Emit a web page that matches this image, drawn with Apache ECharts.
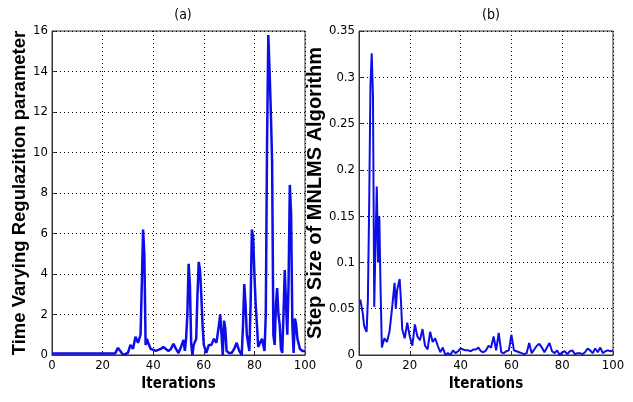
<!DOCTYPE html>
<html><head><meta charset="utf-8">
<script src="https://cdn.jsdelivr.net/npm/echarts@6/dist/echarts.min.js"></script>
<style>html,body{margin:0;padding:0;background:#fff}#c{width:633px;height:402px}</style>
</head><body><div id="c"></div>
<script>
// Panel (a): time varying regularization parameter
const iterA = [0,5,10,15,20,25,26,27,28,29,30,31,32,33,34,35,35.5,36,36.5,37,37.5,38,39,40,41,42,43,44,45,46,47,48,49,50,51,52,52.5,53,53.5,54,54.5,55,55.5,56,57,57.5,58,58.5,59,59.5,60,61,62,63,64,65,66,66.5,67,67.5,68,68.5,69,70,71,72,73,74,75,75.5,76,76.5,77,78,78.5,79,79.5,80,80.5,81,81.5,82,83,83.5,84,84.5,85,85.5,86,86.5,87,87.5,88,88.5,89,89.5,90,90.5,91,91.5,92,92.5,93,93.5,94,94.5,95,95.5,96,96.5,97,98,99,100];
const regA  = [0.08,0.08,0.08,0.08,0.08,0.08,0.35,0.2,0.02,0.05,0.1,0.5,0.3,0.9,0.6,1.0,3.5,6.2,5.0,0.5,0.8,0.6,0.3,0.25,0.2,0.25,0.3,0.4,0.3,0.2,0.3,0.55,0.3,0.1,0.4,0.75,0.2,0.8,2.0,4.5,3.5,0.6,0.0,0.5,0.8,3.0,4.6,4.2,3.0,1.5,0.5,0.1,0.5,0.5,0.8,0.6,1.5,2.0,1.0,0.0,1.7,1.3,0.2,0.1,0.1,0.3,0.6,0.2,0.0,1.5,3.5,2.5,1.0,0.2,2.5,6.2,5.8,4.0,2.5,1.5,0.4,0.4,0.8,0.5,0.2,2.0,10.5,15.8,14.0,12.0,9.5,1.0,0.5,2.5,3.3,2.0,1.5,0.3,0.1,2.0,4.2,2.5,1.0,3.5,8.4,7.0,1.5,0.1,1.8,1.5,0.8,0.3,0.2,0.2];
// Panel (b): step size of MNLMS algorithm
const iterB = [0.5,1,1.5,2,2.5,3,3.5,4,4.5,5,5.5,6,6.5,7,7.5,8,8.5,9,10,11,12,13,14,14.5,15,16,16.5,17,18,19,20,21,22,23,24,25,26,27,28,29,30,31,32,33,34,35,36,37,38,39,40,41,42,43,44,45,46,47,48,49,50,51,52,53,54,55,56,57,58,59,60,61,62,63,64,65,66,67,68,69,70,71,72,73,74,75,76,77,78,79,80,81,82,83,84,85,86,87,88,89,90,91,92,93,94,95,96,97,98,99,100];
const stepB = [0.06,0.058,0.045,0.032,0.028,0.025,0.06,0.16,0.29,0.326,0.28,0.052,0.12,0.182,0.1,0.15,0.07,0.008,0.018,0.014,0.025,0.05,0.078,0.05,0.07,0.082,0.06,0.028,0.018,0.035,0.02,0.01,0.033,0.02,0.016,0.028,0.01,0.006,0.025,0.014,0.018,0.01,0.003,0.008,0.0,0.002,0.0,0.005,0.002,0.004,0.007,0.006,0.005,0.005,0.004,0.006,0.006,0.008,0.004,0.003,0.005,0.01,0.008,0.02,0.005,0.024,0.003,0.002,0.004,0.005,0.022,0.005,0.004,0.003,0.002,0.001,0.002,0.013,0.002,0.006,0.01,0.012,0.008,0.003,0.008,0.013,0.004,0.002,0.005,0.0,0.003,0.004,0.001,0.004,0.005,0.001,0.002,0.002,0.001,0.003,0.007,0.005,0.002,0.007,0.003,0.008,0.002,0.004,0.005,0.004,0.005];

const pairsA = iterA.map((x,i)=>[x,regA[i]]);
const pairsB = iterB.map((x,i)=>[x,stepB[i]]);

const narrow = '"Liberation Sans Narrow","DejaVu Sans Condensed","Arial Narrow",sans-serif';
const tickFont = {fontFamily:narrow, fontSize:13, color:'#000'};
const yNameFont = {fontFamily:'"Liberation Sans","Arial",sans-serif', fontWeight:'bold', color:'#000'};
function xAx(gi){return {type:'value',gridIndex:gi,min:0,max:100,interval:20,
  name:'Iterations',nameLocation:'middle',nameGap:20,
  nameTextStyle:{fontFamily:narrow,fontWeight:'bold',fontSize:15,color:'#000'},
  axisLine:{show:true,lineStyle:{color:'#333',width:1}},
  axisTick:{show:true,inside:true,length:4,lineStyle:{color:'#333'}},
  axisLabel:Object.assign({margin:4},tickFont),
  splitLine:{show:true,lineStyle:{color:'#000',type:[1,3],width:1}}};}
function yAx(gi,max,interval,name,gap,fs,fmt){return {type:'value',gridIndex:gi,min:0,max:max,interval:interval,
  name:name,nameLocation:'middle',nameGap:gap,nameTextStyle:Object.assign({fontSize:fs},yNameFont),
  axisLine:{show:true,lineStyle:{color:'#333',width:1}},
  axisTick:{show:true,inside:true,length:4,lineStyle:{color:'#333'}},
  axisLabel:Object.assign({margin:4,formatter:fmt},tickFont),
  splitLine:{show:true,lineStyle:{color:'#000',type:[1,3],width:1}}};}

const chart = echarts.init(document.getElementById('c'));
chart.setOption({
  animation:false,
  backgroundColor:'#fff',
  title:[
    {text:'(a)',left:178,top:3,textAlign:'center',textStyle:{fontFamily:narrow,fontSize:14,fontWeight:'normal',color:'#000'}},
    {text:'(b)',left:486,top:3,textAlign:'center',textStyle:{fontFamily:narrow,fontSize:14,fontWeight:'normal',color:'#000'}}
  ],
  grid:[
    {left:52,width:253,top:31,height:324,show:true,borderColor:'#333',borderWidth:1,backgroundColor:'transparent'},
    {left:359,width:254,top:31,height:324,show:true,borderColor:'#333',borderWidth:1,backgroundColor:'transparent'}
  ],
  xAxis:[xAx(0),xAx(1)],
  yAxis:[
    yAx(0,16,2,'Time Varying Regulazition parameter',13,18.5,v=>String(v)),
    yAx(1,0.35,0.05,'Step Size of MNLMS Algorithm',21,20,v=>String(+v.toFixed(2)))
  ],
  series:[
    {type:'line',xAxisIndex:0,yAxisIndex:0,data:pairsA,showSymbol:false,lineStyle:{color:'#0d0de8',width:2.5},itemStyle:{color:'#0d0de8'}},
    {type:'line',xAxisIndex:1,yAxisIndex:1,data:pairsB,showSymbol:false,lineStyle:{color:'#0d0de8',width:2},itemStyle:{color:'#0d0de8'}}
  ]
});
</script></body></html>
